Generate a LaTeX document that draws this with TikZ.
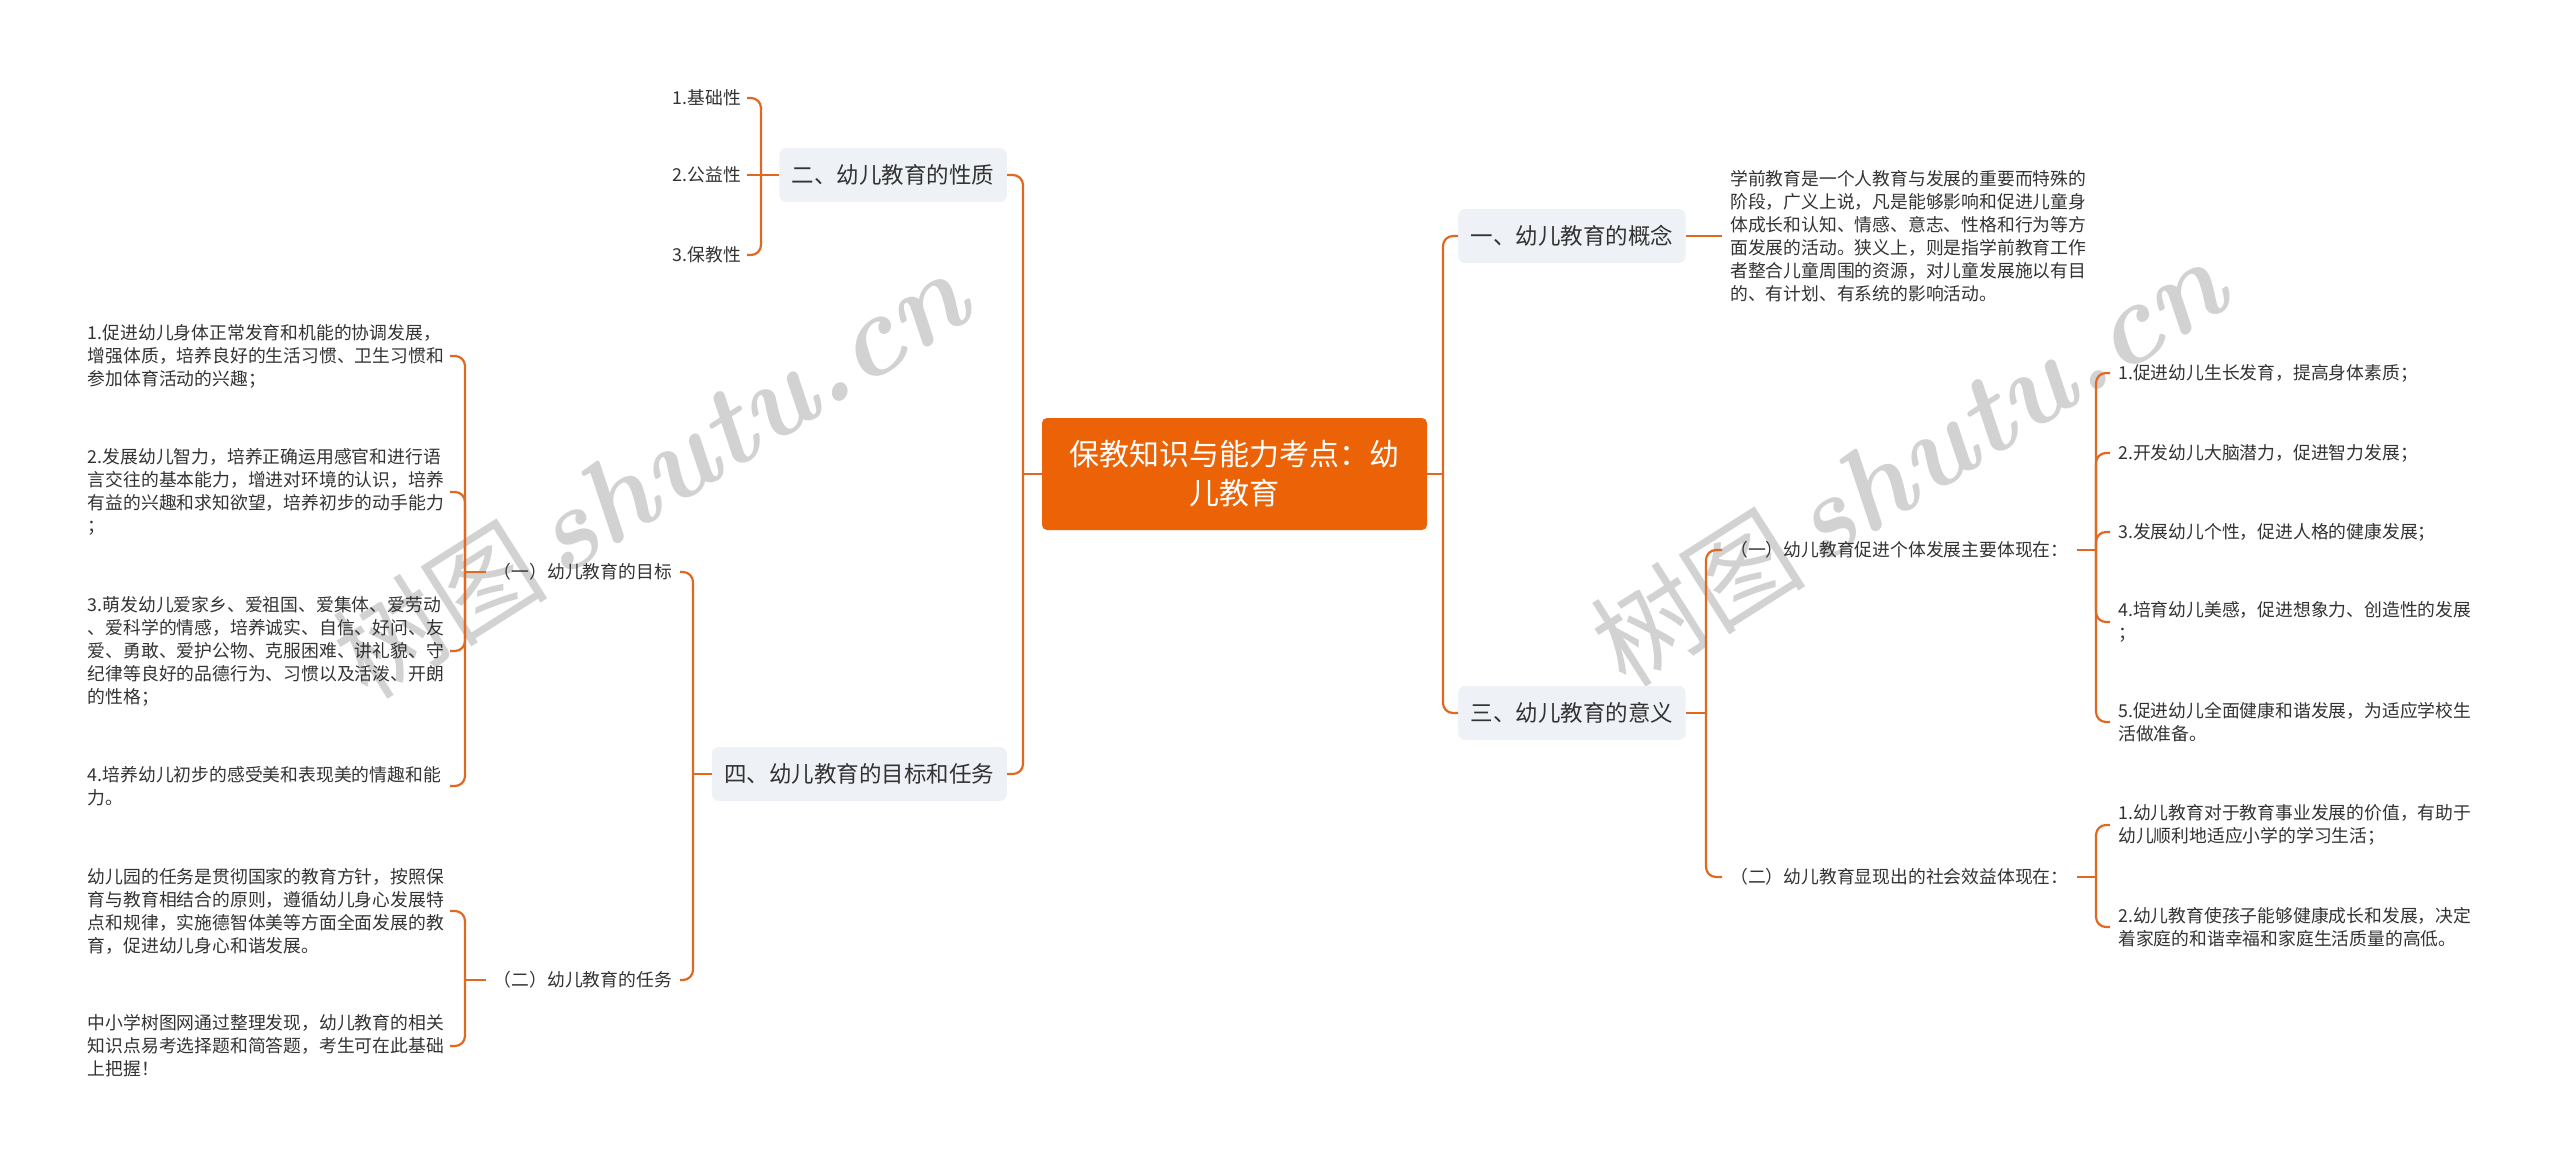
\documentclass[tikz,border=0pt]{standalone}
\usepackage{fontspec}
\setmainfont{Noto Sans CJK SC}
\newcommand{\wmlatin}{\usefont{TU}{lmr}{bx}{it}}
\definecolor{linec}{HTML}{E06820}
\definecolor{rootc}{HTML}{EC6307}
\definecolor{boxc}{HTML}{EEF1F5}
\definecolor{txtc}{HTML}{333333}
\definecolor{wmc}{HTML}{D2D2D2}
\begin{document}
\begin{tikzpicture}[x=1pt,y=-1pt,
  rootbox/.style={fill=rootc, rounded corners=5pt, text=white, minimum width=385pt, minimum height=112pt, align=center, inner sep=0pt, font=\fontsize{30}{39}\selectfont},
  lvone/.style={fill=boxc, rounded corners=7pt, text=txtc, minimum height=54pt, inner xsep=12.5pt, inner ysep=0pt, font=\fontsize{22.5}{27}\selectfont},
  lvtwo/.style={text=txtc, inner xsep=8pt, inner ysep=2pt, font=\fontsize{17.8}{23}\selectfont},
  shortleaf/.style={text=txtc, inner xsep=6pt, inner ysep=2pt, font=\fontsize{17.8}{23}\selectfont},
  leafl/.style={text=txtc, inner xsep=5pt, inner ysep=2pt, align=left, text width=357pt, font=\fontsize{17.8}{23}\selectfont},
  leafr/.style={text=txtc, inner xsep=8pt, inner ysep=2pt, align=left, text width=357pt, font=\fontsize{17.8}{23}\selectfont},
  conn/.style={draw=linec, line width=2.2pt, rounded corners=10pt},
  wm/.style={text=wmc, inner sep=0pt, font=\fontsize{108}{110}\selectfont}]
\fill[white] (0,0) rectangle (2560,1166);
\useasboundingbox (0,0) rectangle (2560,1166);

% watermarks
\node[wm, anchor=base west, rotate=32.4] (wm1) at (368,702) {树图\hspace{12pt}{\wmlatin\fontsize{116}{116}\selectfont shutu.cn}};
\node[wm, anchor=base west, rotate=32.4] (wm2) at (1626,690) {树图\hspace{12pt}{\wmlatin\fontsize{116}{116}\selectfont shutu.cn}};

% root
\node[rootbox] (root) at (1234.5,474) {保教知识与能力考点：幼\\儿教育};

% level one
\node[lvone, anchor=east] (n2) at (1007,175) {二、幼儿教育的性质};
\node[lvone, anchor=east] (n4) at (1007,774) {四、幼儿教育的目标和任务};
\node[lvone, anchor=west] (n1) at (1458,236) {一、幼儿教育的概念};
\node[lvone, anchor=west] (n3) at (1458,713) {三、幼儿教育的意义};

% children of n2
\node[shortleaf, anchor=east] (n2a) at (747,98) {1.基础性};
\node[shortleaf, anchor=east] (n2b) at (747,175) {2.公益性};
\node[shortleaf, anchor=east] (n2c) at (747,255) {3.保教性};

% children of n4
\node[lvtwo, anchor=east] (t1) at (680,572) {（一）幼儿教育的目标};
\node[lvtwo, anchor=east] (t2) at (680,980) {（二）幼儿教育的任务};

\node[leafl, anchor=east] (g1) at (450,356) {1.促进幼儿身体正常发育和机能的协调发展，\\增强体质，培养良好的生活习惯、卫生习惯和\\参加体育活动的兴趣；};
\node[leafl, anchor=east] (g2) at (450,492) {2.发展幼儿智力，培养正确运用感官和进行语\\言交往的基本能力，增进对环境的认识，培养\\有益的兴趣和求知欲望，培养初步的动手能力\\；};
\node[leafl, anchor=east] (g3) at (450,651) {3.萌发幼儿爱家乡、爱祖国、爱集体、爱劳动\\、爱科学的情感，培养诚实、自信、好问、友\\爱、勇敢、爱护公物、克服困难、讲礼貌、守\\纪律等良好的品德行为、习惯以及活泼、开朗\\的性格；};
\node[leafl, anchor=east] (g4) at (450,786) {4.培养幼儿初步的感受美和表现美的情趣和能\\力。};

\node[leafl, anchor=east] (r1) at (450,911) {幼儿园的任务是贯彻国家的教育方针，按照保\\育与教育相结合的原则，遵循幼儿身心发展特\\点和规律，实施德智体美等方面全面发展的教\\育，促进幼儿身心和谐发展。};
\node[leafl, anchor=east] (r2) at (450,1046) {中小学树图网通过整理发现，幼儿教育的相关\\知识点易考选择题和简答题，考生可在此基础\\上把握！};

% child of n1
\node[leafr, anchor=west] (c1) at (1722,236) {学前教育是一个人教育与发展的重要而特殊的\\阶段，广义上说，凡是能够影响和促进儿童身\\体成长和认知、情感、意志、性格和行为等方\\面发展的活动。狭义上，则是指学前教育工作\\者整合儿童周围的资源，对儿童发展施以有目\\的、有计划、有系统的影响活动。};

% children of n3
\node[lvtwo, anchor=west] (s1) at (1722,550) {（一）幼儿教育促进个体发展主要体现在：};
\node[lvtwo, anchor=west] (s2) at (1722,877) {（二）幼儿教育显现出的社会效益体现在：};

\node[leafr, anchor=west] (s1a) at (2110,373) {1.促进幼儿生长发育，提高身体素质；};
\node[leafr, anchor=west] (s1b) at (2110,453) {2.开发幼儿大脑潜力，促进智力发展；};
\node[leafr, anchor=west] (s1c) at (2110,532) {3.发展幼儿个性，促进人格的健康发展；};
\node[leafr, anchor=west] (s1d) at (2110,622) {4.培育幼儿美感，促进想象力、创造性的发展\\；};
\node[leafr, anchor=west] (s1e) at (2110,722) {5.促进幼儿全面健康和谐发展，为适应学校生\\活做准备。};

\node[leafr, anchor=west] (s2a) at (2110,825) {1.幼儿教育对于教育事业发展的价值，有助于\\幼儿顺利地适应小学的学习生活；};
\node[leafr, anchor=west] (s2b) at (2110,927) {2.幼儿教育使孩子能够健康成长和发展，决定\\着家庭的和谐幸福和家庭生活质量的高低。};

% junctions
\coordinate (jl) at (1023,474);
\coordinate (jr) at (1443,474);
\coordinate (j2) at (761,175);
\coordinate (j4) at (693,774);
\coordinate (jt1) at (465,572);
\coordinate (jt2) at (465,980);
\coordinate (j3) at (1706,713);
\coordinate (js1) at (2096,550);
\coordinate (js2) at (2096,877);

% connectors
\draw[conn] (root.west) -- (jl);
\draw[conn] (jl) |- (n2.east);
\draw[conn] (jl) |- (n4.east);
\draw[conn] (root.east) -- (jr);
\draw[conn] (jr) |- (n1.west);
\draw[conn] (jr) |- (n3.west);

\draw[conn] (n2.west) -- (j2);
\draw[conn] (j2) |- (n2a.east);
\draw[conn] (j2) -- (n2b.east);
\draw[conn] (j2) |- (n2c.east);

\draw[conn] (n4.west) -- (j4);
\draw[conn] (j4) |- (t1.east);
\draw[conn] (j4) |- (t2.east);

\draw[conn] (t1.west) -- (jt1);
\draw[conn] (jt1) |- (g1.east);
\draw[conn] (jt1) |- (g2.east);
\draw[conn] (jt1) |- (g3.east);
\draw[conn] (jt1) |- (g4.east);

\draw[conn] (t2.west) -- (jt2);
\draw[conn] (jt2) |- (r1.east);
\draw[conn] (jt2) |- (r2.east);

\draw[conn] (n1.east) -- (c1.west);

\draw[conn] (n3.east) -- (j3);
\draw[conn] (j3) |- (s1.west);
\draw[conn] (j3) |- (s2.west);

\draw[conn] (s1.east) -- (js1);
\draw[conn] (js1) |- (s1a.west);
\draw[conn] (js1) |- (s1b.west);
\draw[conn] (js1) |- (s1c.west);
\draw[conn] (js1) |- (s1d.west);
\draw[conn] (js1) |- (s1e.west);

\draw[conn] (s2.east) -- (js2);
\draw[conn] (js2) |- (s2a.west);
\draw[conn] (js2) |- (s2b.west);
\end{tikzpicture}
\end{document}
